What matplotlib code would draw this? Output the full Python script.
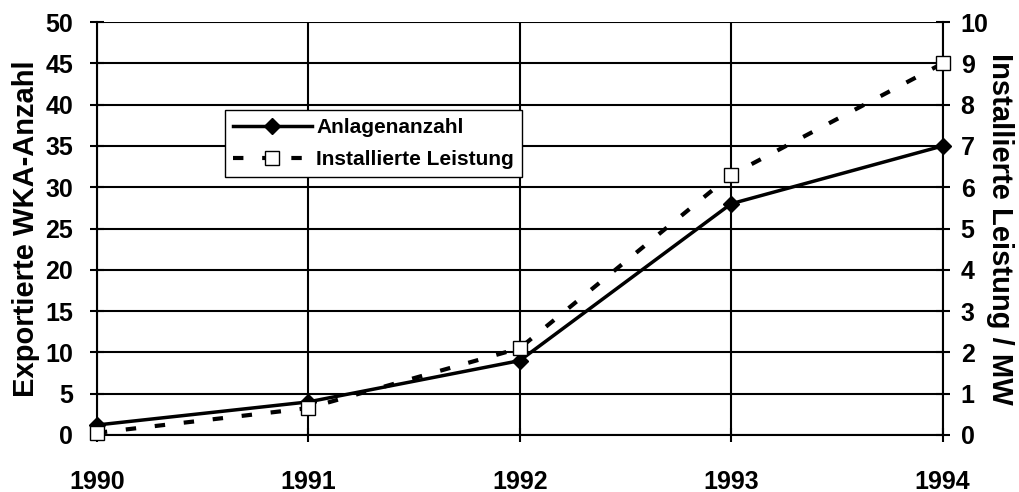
import matplotlib
matplotlib.use("Agg")
from matplotlib import pyplot as plt

# data
years = [1990, 1991, 1992, 1993, 1994]
anlagen = [1.2, 4, 9, 28, 35]
leistung = [0.05, 0.65, 2.1, 6.3, 9.0]

plt.rcParams['font.family'] = ['Liberation Sans', 'DejaVu Sans']
plt.rcParams['font.weight'] = 'bold'

fig = plt.figure(figsize=(10.19, 4.92), dpi=100)
ax = fig.add_axes([0.095, 0.116, 0.83, 0.839])
ax2 = ax.twinx()

# left axis line
l1, = ax.plot(years, anlagen, color='black', lw=2.5, marker='D', markersize=8,
              label='Anlagenanzahl', clip_on=False, zorder=5)
# right axis line
l2, = ax2.plot(years, leistung, color='black', lw=3, linestyle=(0, (2.5, 4.5)),
               marker='s', markersize=10, markerfacecolor='white',
               markeredgecolor='black', markeredgewidth=1, label='Installierte Leistung',
               clip_on=False, zorder=5)

ax.set_xlim(1990, 1994)
ax.set_ylim(0, 50)
ax2.set_ylim(0, 10)
ax.set_yticks(range(0, 51, 5))
ax2.set_yticks(range(0, 11, 1))
ax.set_xticks(years)

# grid
ax.grid(True, color='black', lw=1.5)
ax.set_axisbelow(True)

for a in (ax, ax2):
    for s in a.spines.values():
        s.set_visible(False)
    a.tick_params(labelsize=18, width=1.5, length=10, direction='inout', pad=8)
ax.tick_params(axis='x', pad=20)
ax.tick_params(axis='y', pad=12)
ax.spines['left'].set_visible(True)
ax.spines['left'].set_linewidth(1.5)
ax.spines['bottom'].set_visible(True)
ax.spines['bottom'].set_linewidth(1.5)
ax2.spines['right'].set_visible(True)
ax2.spines['right'].set_linewidth(1.5)

ax.set_ylabel('Exportierte WKA-Anzahl', fontsize=21, fontweight='bold', labelpad=4)
ax2.set_ylabel('Installierte Leistung / MW', fontsize=21, fontweight='bold',
               rotation=270, labelpad=18)

leg = ax2.legend(handles=[l1, l2], loc='upper left', bbox_to_anchor=(0.151, 0.787),
                 fontsize=15, frameon=True, fancybox=False, edgecolor='black',
                 framealpha=1, handlelength=3.8, borderpad=0.4, labelspacing=0.6,
                 handletextpad=0.2, borderaxespad=0)
leg.get_frame().set_linewidth(1)

fig.savefig('out.png', dpi=100)
